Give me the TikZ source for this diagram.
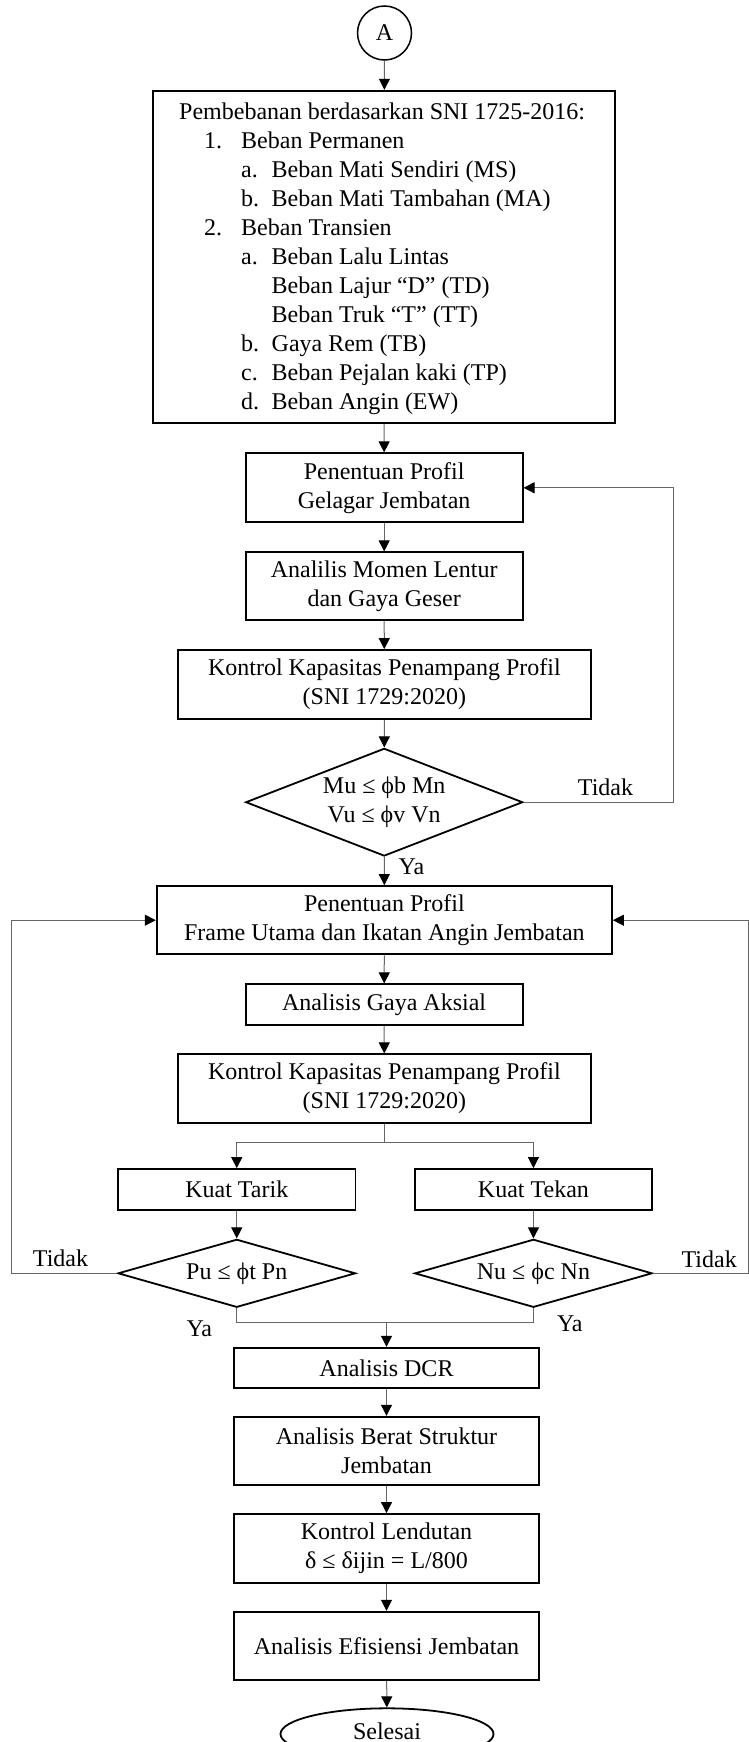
\documentclass[tikz,border=0pt]{standalone}
\usepackage{fontspec}
\setmainfont{Liberation Serif}
\usetikzlibrary{shapes.geometric,arrows.meta}
\newcommand\myfs{\fontsize{24}{29}\selectfont}
\tikzset{
  box/.style={draw, rectangle, line width=1.8pt, inner sep=0pt, align=center, font=\myfs},
  dia/.style={draw, diamond, line width=1.8pt, inner sep=0pt, aspect=3, align=center, font=\myfs},
  lbl/.style={inner sep=0pt, font=\myfs},
  lst/.style={inner sep=0pt, anchor=base west, font=\myfs},
  conn/.style={line width=1pt, draw=black!60, -{Triangle[length=11pt,width=11pt,color=black]}},
  plain/.style={line width=1pt, draw=black!60},
}
\begin{document}
\begin{tikzpicture}[x=1pt,y=-1pt]
\useasboundingbox (0,0) rectangle (749,1742);
\clip (0,0) rectangle (749,1742);
\fill[white] (0,0) rectangle (749,1742);
% start connector
\node[draw, circle, line width=1.5pt, minimum size=54pt, inner sep=0pt, font=\myfs] (A) at (384.5,33) {A};
% box 1
\node[box, minimum width=462pt, minimum height=332.6pt] (b1) at (384,257) {};
\node[lst] (l0) at (179,119.5) {Pembebanan berdasarkan SNI 1725-2016:};
\node[lst] (l1) at (204,148.5) {\makebox[37pt][l]{1.}Beban Permanen};
\node[lst] (l2) at (241,177.5) {\makebox[30.5pt][l]{a.}Beban Mati Sendiri (MS)};
\node[lst] (l3) at (241,206.5) {\makebox[30.5pt][l]{b.}Beban Mati Tambahan (MA)};
\node[lst] (l4) at (204,235.5) {\makebox[37pt][l]{2.}Beban Transien};
\node[lst] (l5) at (241,264.5) {\makebox[30.5pt][l]{a.}Beban Lalu Lintas};
\node[lst] (l6) at (271.5,293.5) {Beban Lajur “D” (TD)};
\node[lst] (l7) at (271.5,322.5) {Beban Truk “T” (TT)};
\node[lst] (l8) at (241,351.5) {\makebox[30.5pt][l]{b.}Gaya Rem (TB)};
\node[lst] (l9) at (241,380.5) {\makebox[30.5pt][l]{c.}Beban Pejalan kaki (TP)};
\node[lst] (l10) at (241,409.5) {\makebox[30.5pt][l]{d.}Beban Angin (EW)};
% upper loop
\node[box, minimum width=277pt, minimum height=69pt] (b2) at (384.15,487.8) {Penentuan Profil\\Gelagar Jembatan};
\node[box, minimum width=277pt, minimum height=68pt] (b3) at (384.15,586.3) {Analilis Momen Lentur\\dan Gaya Geser};
\node[box, minimum width=413.3pt, minimum height=69pt] (b4) at (384.35,684.5) {Kontrol Kapasitas Penampang Profil\\(SNI 1729:2020)};
\node[dia, minimum width=277pt, minimum height=107.7pt, aspect=2.6] (d1) at (384.2,802.2) {Mu ≤ ϕb Mn\\Vu ≤ ϕv Vn};
% main frame
\node[box, minimum width=455.3pt, minimum height=68.3pt] (b5) at (384.35,920.2) {Penentuan Profil\\Frame Utama dan Ikatan Angin Jembatan};
\node[box, minimum width=277pt, minimum height=40.4pt] (b6) at (384.15,1004.5) {Analisis Gaya Aksial};
\node[box, minimum width=413.3pt, minimum height=68.4pt] (b7) at (384.35,1088.5) {Kontrol Kapasitas Penampang Profil\\(SNI 1729:2020)};
\node[box, minimum width=237.5pt, minimum height=41pt] (b8) at (236.75,1189.5) {Kuat Tarik};
\node[box, minimum width=237.5pt, minimum height=41pt] (b9) at (533.45,1189.5) {Kuat Tekan};
\node[dia, minimum width=237.5pt, minimum height=68pt, aspect=3.5] (d2) at (236.75,1273.3) {Pu ≤ ϕt Pn};
\node[dia, minimum width=237.5pt, minimum height=68pt, aspect=3.5] (d3) at (533.45,1273.3) {Nu ≤ ϕc Nn};
% lower chain
\node[box, minimum width=305pt, minimum height=40.6pt] (b10) at (386.5,1368) {Analisis DCR};
\node[box, minimum width=305pt, minimum height=68.6pt] (b11) at (386.5,1451) {Analisis Berat Struktur\\Jembatan};
\node[box, minimum width=305pt, minimum height=68.7pt] (b12) at (386.5,1548.3) {Kontrol Lendutan\\δ ≤ δijin = L/800};
\node[box, minimum width=305pt, minimum height=68.3pt] (b13) at (386.5,1645.8) {Analisis Efisiensi Jembatan};
\node[draw, ellipse, line width=1.8pt, inner sep=0pt, minimum width=213pt, minimum height=51.4pt, font=\myfs] (end) at (387,1734) {};
\node[lbl] (endt) at (387,1731.5) {Selesai};
% labels
\node[lbl] (t1) at (605.5,787.7) {Tidak};
\node[lbl] (y1) at (411.5,866.7) {Ya};
\node[lbl] (t2) at (60.5,1258.3) {Tidak};
\node[lbl] (t3) at (709.2,1259.3) {Tidak};
\node[lbl] (y2) at (199.3,1328.3) {Ya};
\node[lbl] (y3) at (569.8,1323.3) {Ya};
% helper coordinates
\coordinate (r1) at (673.5,0);
\coordinate (lf) at (11,0);
\coordinate (rt) at (748,0);
\coordinate (split) at (384.35,1142.7);
\coordinate (merge) at (386.5,1322);
% connectors
\draw[conn] (A) -- (b1);
\draw[conn] (b1) -- (b2);
\draw[conn] (b2) -- (b3);
\draw[conn] (b3) -- (b4);
\draw[conn] (b4) -- (d1);
\draw[conn] (d1) -- (b5);
\draw[conn] (d1.east) -- (d1.east -| r1) |- (b2.east);
\draw[conn] (b5) -- (b6);
\draw[conn] (b6) -- (b7);
\draw[plain] (b7.south) -- (split);
\draw[conn] (split) -| (b8.north);
\draw[conn] (split) -| (b9.north);
\draw[conn] (b8) -- (d2);
\draw[conn] (b9) -- (d3);
\draw[conn] (d2.west) -- (d2.west -| lf) |- (b5.west);
\draw[conn] (d3.east) -- (d3.east -| rt) |- (b5.east);
\draw[plain] (d2.south) |- (merge) -| (d3.south);
\draw[conn] (merge) -- (b10.north);
\draw[conn] (b10) -- (b11);
\draw[conn] (b11) -- (b12);
\draw[conn] (b12) -- (b13);
\draw[conn] (b13) -- (end);
\end{tikzpicture}
\end{document}
